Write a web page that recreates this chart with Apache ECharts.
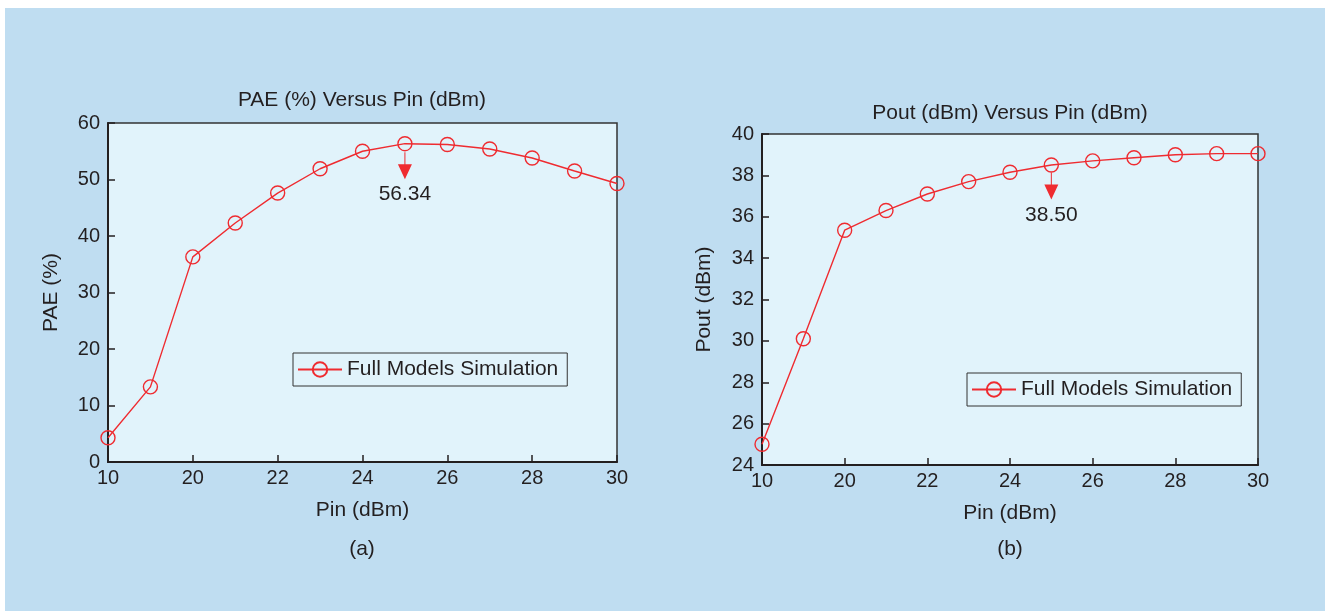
<!DOCTYPE html>
<html>
<head>
<meta charset="utf-8">
<title>PAE and Pout versus Pin</title>
<script src="https://cdn.jsdelivr.net/npm/echarts@6/dist/echarts.min.js"></script>
<style>
  html, body { margin: 0; padding: 0; background: #ffffff; }
  #chart { width: 1325px; height: 611px; }
</style>
</head>
<body>
<div id="chart"></div>
<script>
// Pin sweep points (second point is unlabeled on the axis)
var pinCategories = ['10', '15', '20', '21', '22', '23', '24', '25', '26', '27', '28', '29', '30'];
// PAE (%) per Pin point
var paeValues = [4.3, 13.3, 36.3, 42.3, 47.6, 51.9, 55.0, 56.34, 56.2, 55.4, 53.8, 51.5, 49.3];
// Pout (dBm) per Pin point
var poutValues = [25.0, 30.1, 35.35, 36.3, 37.1, 37.7, 38.15, 38.5, 38.7, 38.85, 39.0, 39.05, 39.05];
var seriesName = 'Full Models Simulation';
var paeMark = { pin: '25', value: 56.34, label: '56.34' };
var poutMark = { pin: '25', value: 38.50, label: '38.50' };

var FONT = '"Liberation Sans", Arial, Helvetica, sans-serif';
var TEXT = '#231f20';
var RED = '#ef2b30';
var PLOT_BG = '#e1f3fb';
var PANEL_BG = '#bfddf1';
// stem + filled triangle pointing down
var ARROW = 'path://M6.5,0 L7.5,0 L7.5,12 L14,12 L7,27 L0,12 L6.5,12 Z';

function xAxisCfg(grid) {
	return {
		type: 'category',
		gridIndex: grid,
		data: pinCategories,
		boundaryGap: false,
		name: 'Pin (dBm)',
		nameLocation: 'middle',
		nameGap: 38,
		nameTextStyle: { fontFamily: FONT, fontSize: 21, color: TEXT },
		axisLine: { lineStyle: { color: TEXT, width: 2 } },
		axisTick: { inside: true, interval: 1, length: 7, lineStyle: { color: TEXT, width: 1.5 } },
		axisLabel: { interval: 1, margin: 6, fontFamily: FONT, fontSize: 20, color: TEXT },
		splitLine: { show: false }
	};
}

function yAxisCfg(grid, name, min, max, step, gap) {
	return {
		type: 'value',
		gridIndex: grid,
		min: min,
		max: max,
		interval: step,
		name: name,
		nameLocation: 'middle',
		nameGap: gap,
		nameTextStyle: { fontFamily: FONT, fontSize: 21, color: TEXT },
		axisLine: { show: true, lineStyle: { color: TEXT, width: 2 } },
		axisTick: { show: true, inside: true, length: 7, lineStyle: { color: TEXT, width: 1.5 } },
		axisLabel: { margin: 8, fontFamily: FONT, fontSize: 20, color: TEXT },
		splitLine: { show: false }
	};
}

function seriesCfg(idx, values, mark, offset) {
	return {
		type: 'line',
		name: seriesName,
		xAxisIndex: idx,
		yAxisIndex: idx,
		data: values,
		symbol: 'circle',
		symbolSize: 14,
		color: RED,
		lineStyle: { color: RED, width: 1.4 },
		itemStyle: { color: 'rgba(0,0,0,0)', borderColor: RED, borderWidth: 1.4 },
		animation: false,
		markPoint: {
			symbol: ARROW,
			symbolSize: [14, 27],
			symbolOffset: [0, offset],
			itemStyle: { color: RED, borderWidth: 0 },
			label: {
				show: true,
				position: 'bottom',
				distance: 5,
				fontFamily: FONT,
				fontSize: 21,
				color: TEXT,
				formatter: mark.label
			},
			data: [{ coord: [mark.pin, mark.value] }]
		}
	};
}

function legendCfg(left, top) {
	return {
		left: left,
		top: top,
		data: [seriesName],
		backgroundColor: PLOT_BG,
		borderColor: '#333333',
		borderWidth: 1,
		padding: [6, 9, 6, 4],
		itemWidth: 44,
		itemHeight: 18,
		selectedMode: false,
		textStyle: { fontFamily: FONT, fontSize: 21, color: TEXT }
	};
}

var chart = echarts.init(document.getElementById('chart'), null, { renderer: 'canvas' });
chart.setOption({
	backgroundColor: '#ffffff',
	animation: false,
	graphic: [
		{ type: 'rect', left: 5, top: 8, z: -10, shape: { width: 1320, height: 603 }, style: { fill: PANEL_BG } },
		{ type: 'text', x: 362, y: 549, z: 10, style: { text: '(a)', font: '21px ' + FONT, fill: TEXT, textAlign: 'center', textVerticalAlign: 'middle' } },
		{ type: 'text', x: 1010, y: 549, z: 10, style: { text: '(b)', font: '21px ' + FONT, fill: TEXT, textAlign: 'center', textVerticalAlign: 'middle' } }
	],
	title: [
		{ text: 'PAE (%) Versus Pin (dBm)', left: 362, top: 90, textAlign: 'center', padding: 0,
		  textStyle: { fontFamily: FONT, fontSize: 21, fontWeight: 'normal', color: TEXT } },
		{ text: 'Pout (dBm) Versus Pin (dBm)', left: 1010, top: 103, textAlign: 'center', padding: 0,
		  textStyle: { fontFamily: FONT, fontSize: 21, fontWeight: 'normal', color: TEXT } }
	],
	legend: [legendCfg(293, 353), legendCfg(967, 373)],
	grid: [
		{ left: 108, top: 123, width: 509, height: 339, show: true, backgroundColor: PLOT_BG, borderColor: '#333333', borderWidth: 1.5 },
		{ left: 762, top: 134, width: 496, height: 331, show: true, backgroundColor: PLOT_BG, borderColor: '#333333', borderWidth: 1.5 }
	],
	xAxis: [xAxisCfg(0), xAxisCfg(1)],
	yAxis: [
		yAxisCfg(0, 'PAE (%)', 0, 60, 10, 46),
		yAxisCfg(1, 'Pout (dBm)', 24, 40, 2, 47)
	],
	series: [
		seriesCfg(0, paeValues, paeMark, 22),
		seriesCfg(1, poutValues, poutMark, 21)
	]
});
</script>
</body>
</html>
